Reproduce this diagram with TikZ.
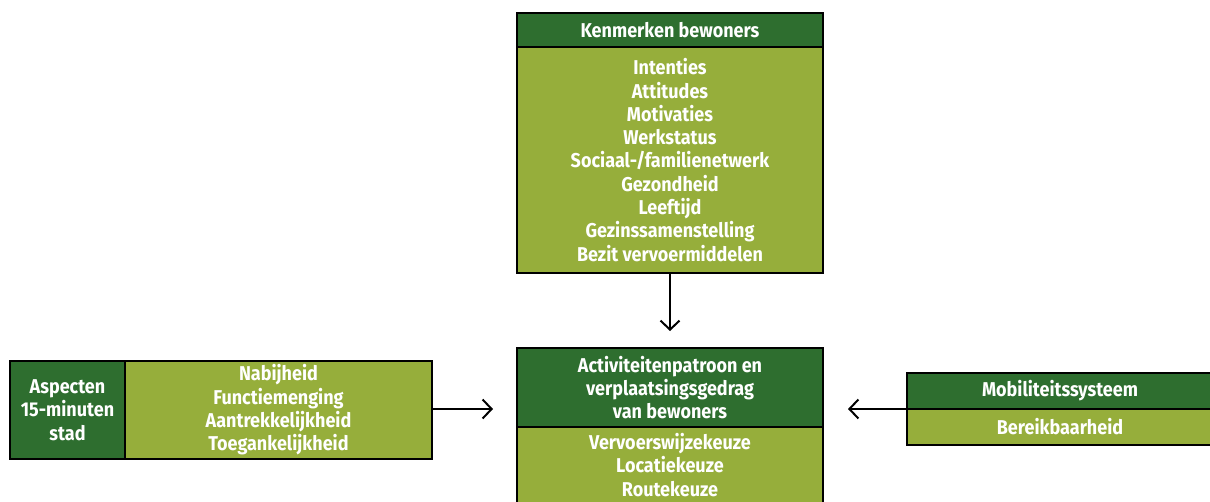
\documentclass[tikz,border=0pt]{standalone}
\usepackage{fontspec}
\setmainfont{Fira Sans}[BoldFont={Fira Sans Bold}, FakeStretch=0.9]
\usetikzlibrary{arrows.meta}
\definecolor{dkgreen}{RGB}{46,110,47}
\definecolor{ltgreen}{RGB}{150,174,59}
\tikzset{
  box/.style={draw=black, line width=2.4pt, text=white, align=center, inner sep=0pt,
    font=\bfseries\fontsize{20}{23.3}\selectfont},
  dark/.style={box, fill=dkgreen},
  light/.style={box, fill=ltgreen},
  arr/.style={draw=black, line width=2pt, -{Straight Barb[length=9pt, width=19pt, line width=2pt]}}
}
\begin{document}
\begin{tikzpicture}[x=1pt, y=-1pt]
\useasboundingbox (0,0) rectangle (1210,501);
% top box
\node[dark, minimum width=306pt, minimum height=34pt] (kh) at (670,30) {Kenmerken bewoners};
\node[light, minimum width=306pt, minimum height=226pt] (kb) at (670,160) {Intenties\\Attitudes\\Motivaties\\Werkstatus\\Sociaal-/familienetwerk\\Gezondheid\\Leeftijd\\Gezinssamenstelling\\Bezit vervoermiddelen};
% center box
\node[dark, minimum width=306pt, minimum height=79pt] (ah) at (670,387.5) {Activiteitenpatroon en\\verplaatsingsgedrag\\van bewoners};
\node[light, minimum width=306pt, minimum height=76pt] (ab) at (670,465) {Vervoerswijzekeuze\\Locatiekeuze\\Routekeuze};
% left box
\node[dark, minimum width=115pt, minimum height=98pt] (lh) at (67.5,410) {Aspecten\\15-minuten\\stad};
\node[light, minimum width=307pt, minimum height=98pt] (lb) at (278.5,410) {Nabijheid\\Functiemenging\\Aantrekkelijkheid\\Toegankelijkheid};
% right box
\node[dark, minimum width=306pt, minimum height=36pt] (rh) at (1060,391) {Mobiliteitssysteem};
\node[light, minimum width=306pt, minimum height=36pt] (rb) at (1060,427) {Bereikbaarheid};
% arrows
\coordinate (ta) at (670,331);
\coordinate (la) at (493,409);
\coordinate (ra) at (848,409);
\draw[arr] (kb.south) -- (ta);
\draw[arr] (lb.east |- la) -- (la);
\draw[arr] (rh.west |- ra) -- (ra);
\end{tikzpicture}
\end{document}
